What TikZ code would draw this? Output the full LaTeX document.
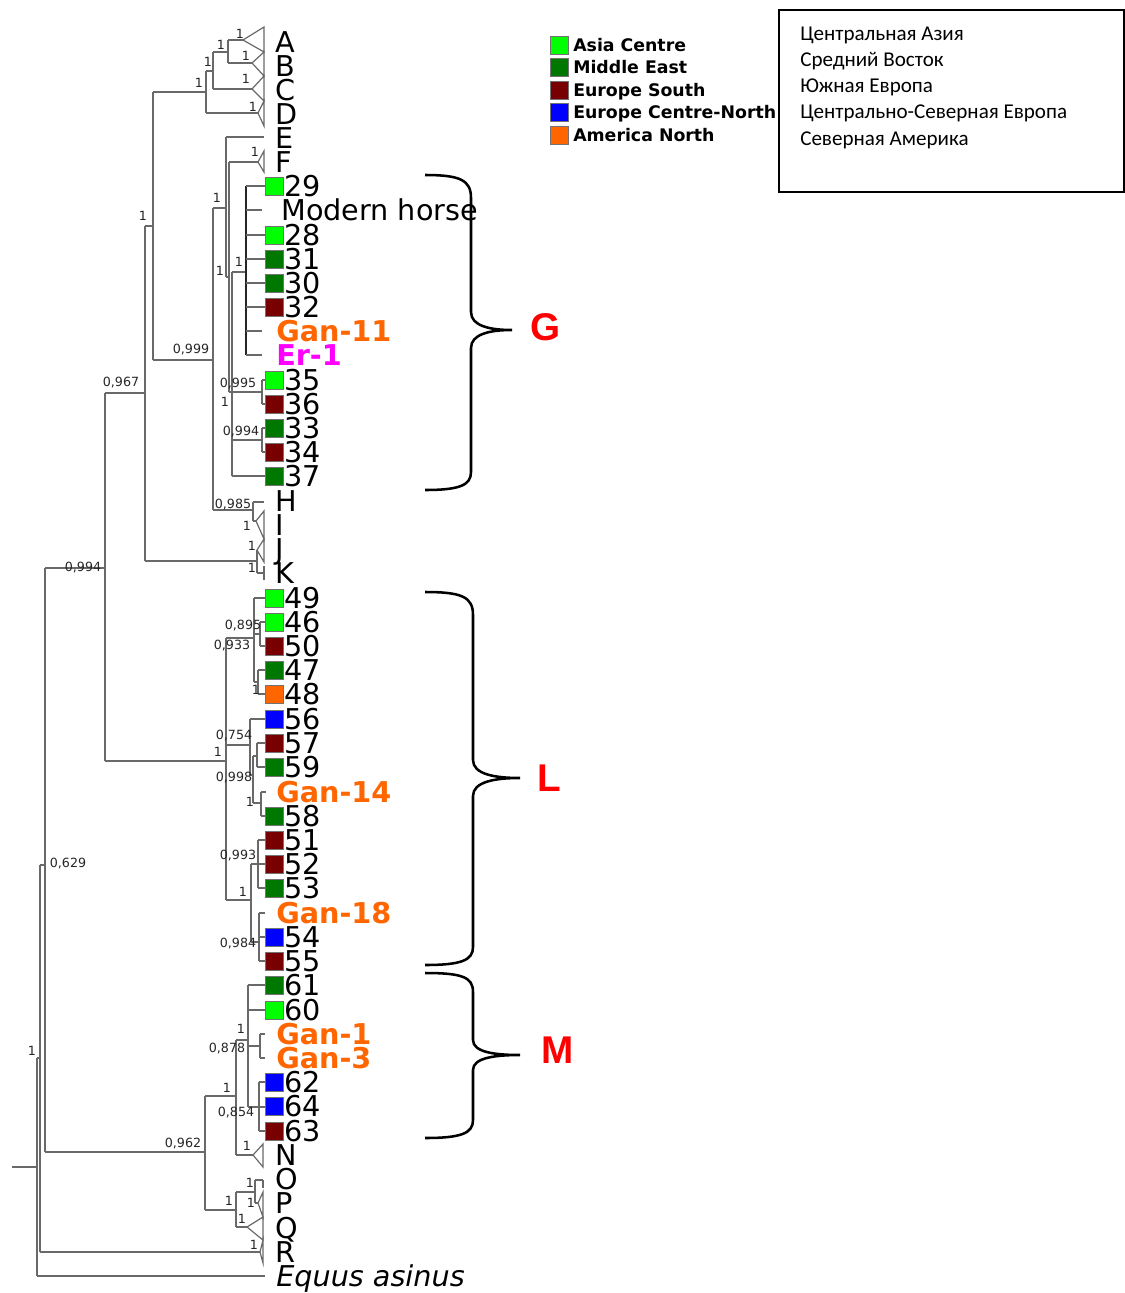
\documentclass[tikz,border=0pt]{standalone}
\usepackage{fontspec}
\setmainfont{DejaVu Sans}
\newfontfamily\rus{Carlito}
\newfontfamily\lsb{Liberation Sans}
\definecolor{ac}{RGB}{0,255,0}
\definecolor{me}{RGB}{0,120,0}
\definecolor{es}{RGB}{120,0,0}
\definecolor{ecn}{RGB}{0,0,255}
\definecolor{an}{RGB}{255,102,0}
\definecolor{tg}{RGB}{105,105,105}
\definecolor{mag}{RGB}{255,0,255}
\newcommand\sqleaf[4]{%
  \filldraw[fill=#3, draw=black!55, line width=0.4pt] (265,#2-9) rectangle (283,#2+9);
  \node[lf] (#1) at (284,#2+10.2) {#4};}
\newcommand\ltr[3]{\node[lf] (#1) at (275,#2+10.2) {#3};}
\newcommand\nlab[3]{\node[nl] at (#1,#2) {#3};}
\newcommand\legitem[3]{%
  \filldraw[fill=#2, draw=black!55, line width=0.4pt] (550,#1-9) rectangle (568,#1+9);
  \node[anchor=base west, inner sep=0pt, font=\bfseries\fontsize{13}{13}\selectfont] at (573,#1+6.3) {#3};}
\begin{document}
\begin{tikzpicture}[x=0.75pt,y=-0.75pt,
  tl/.style={draw=tg, line width=0.9pt},
  lf/.style={anchor=base west, inner sep=0pt, font=\fontsize{21.5}{21.5}\selectfont},
  gl/.style={anchor=base west, inner sep=0pt, font=\bfseries\fontsize{21.5}{21.5}\selectfont, text=an},
  nl/.style={inner sep=0pt, font=\fontsize{9.5}{10}\selectfont, text=black!85},
  bracestyle/.style={draw=black, line width=1.9pt},
  grp/.style={font=\lsb\bfseries\fontsize{29}{29}\selectfont, text=red, inner sep=0pt},
  rusl/.style={anchor=base west, inner sep=0pt, font=\rus\fontsize{15.8}{15.8}\selectfont}]
\useasboundingbox (0,0) rectangle (1125,1293);

% ---------------- tree: top clade ----------------
\draw[tl] (145,226)--(153,226);
\draw[tl] (153,92)--(153,360);
\draw[tl] (153,92)--(206,92);
\draw[tl] (206,71)--(206,113);
\draw[tl] (206,113)--(258,113);
\draw[tl] (206,71)--(213,71);
\draw[tl] (213,52)--(213,89);
\draw[tl] (213,89)--(252,89);
\draw[tl] (213,52)--(228,52);
\draw[tl] (228,40)--(228,63);
\draw[tl] (228,40)--(243,40);
\draw[tl] (228,63)--(252,63);
\draw[tl] (243,40)--(264,27)--(264,52)--cycle;
\draw[tl] (252,63)--(264,52)--(264,76)--cycle;
\draw[tl] (252,89)--(264,76)--(264,101)--cycle;
\draw[tl] (258,113)--(264,101)--(264,126)--cycle;
% G region
\draw[tl] (153,360)--(213,360);
\draw[tl] (213,208)--(213,510);
\draw[tl] (213,208)--(226,208);
\draw[tl] (226,137)--(226,277);
\draw[tl] (226,137)--(264,137);
\draw[tl] (226,277)--(229,277);
\draw[tl] (229,162)--(229,392);
\draw[tl] (229,162)--(258,162);
\draw[tl] (258,162)--(264,151)--(264,172)--cycle;
\draw[tl] (229,392)--(232,392);
\draw[tl] (232,272)--(232,476);
\draw[tl] (232,272)--(246,272);
\draw[tl, draw=black!85] (246,186)--(246,355);
\foreach \yy in {186,235,259,283,307} {\draw[tl] (246,\yy)--(265,\yy);}
\foreach \yy in {210,331,355} {\draw[tl] (246,\yy)--(262,\yy);}
\draw[tl] (232,392)--(262,392);
\draw[tl] (262,380)--(262,404);
\draw[tl] (262,380)--(265,380);
\draw[tl] (262,404)--(265,404);
\draw[tl] (232,440)--(262,440);
\draw[tl] (262,428)--(262,452);
\draw[tl] (262,428)--(265,428);
\draw[tl] (262,452)--(265,452);
\draw[tl] (232,476)--(265,476);
% H, I, J, K
\draw[tl] (213,510)--(253,510);
\draw[tl] (253,502)--(253,521);
\draw[tl] (253,502)--(264,502);
\draw[tl] (253,521)--(256,521);
\draw[tl] (256,521)--(264,511)--(264,539)--cycle;
\draw[tl] (105,393)--(145,393);
\draw[tl] (145,226)--(145,561);
\draw[tl] (145,561)--(257,561);
\draw[tl] (257,550)--(257,573);
\draw[tl] (257,550)--(264,539)--(264,562)--cycle;
\draw[tl] (257,573)--(264,573);
\draw[tl] (264,566)--(264,580);
% ---------------- L clade ----------------
\draw[tl] (45,568)--(105,568);
\draw[tl] (105,393)--(105,761);
\draw[tl] (105,761)--(226,761);
\draw[tl] (226,638)--(226,900);
\draw[tl] (226,638)--(254,638);
\draw[tl] (254,598)--(254,682);
\draw[tl] (254,598)--(265,598);
\draw[tl] (254,634)--(260,634);
\draw[tl] (260,622)--(260,646);
\draw[tl] (260,622)--(265,622);
\draw[tl] (260,646)--(265,646);
\draw[tl] (254,682)--(258,682);
\draw[tl] (258,670)--(258,694);
\draw[tl] (258,670)--(265,670);
\draw[tl] (258,694)--(265,694);
\draw[tl] (226,745)--(250,745);
\draw[tl] (250,719)--(250,775);
\draw[tl] (250,719)--(265,719);
\draw[tl] (250,775)--(253,775);
\draw[tl] (253,756)--(253,803);
\draw[tl] (253,756)--(257,756);
\draw[tl] (257,743)--(257,767);
\draw[tl] (257,743)--(265,743);
\draw[tl] (257,767)--(265,767);
\draw[tl] (253,803)--(261,803);
\draw[tl] (261,792)--(261,816);
\draw[tl] (261,792)--(266,792);
\draw[tl] (261,816)--(265,816);
\draw[tl] (226,900)--(251,900);
\draw[tl] (251,864)--(251,942);
\draw[tl] (251,864)--(258,864);
\draw[tl] (258,840)--(258,888);
\foreach \yy in {840,864,888} {\draw[tl] (258,\yy)--(265,\yy);}
\draw[tl] (251,942)--(259,942);
\draw[tl] (259,913)--(259,961);
\foreach \yy in {913,937,961} {\draw[tl] (259,\yy)--(265,\yy);}
% ---------------- M clade and N-R ----------------
\draw[tl] (45,1152)--(205,1152);
\draw[tl] (205,1096)--(205,1210);
\draw[tl] (205,1096)--(236,1096);
\draw[tl] (236,1040)--(236,1155);
\draw[tl] (236,1040)--(248,1040);
\draw[tl] (248,985)--(248,1107);
\draw[tl] (248,985)--(265,985);
\draw[tl] (248,1010)--(265,1010);
\draw[tl] (248,1046)--(260,1046);
\draw[tl] (260,1034)--(260,1058);
\draw[tl] (260,1034)--(265,1034);
\draw[tl] (260,1058)--(265,1058);
\draw[tl] (248,1107)--(259,1107);
\draw[tl] (259,1082)--(259,1131);
\foreach \yy in {1082,1107,1131} {\draw[tl] (259,\yy)--(265,\yy);}
\draw[tl] (236,1155)--(253,1155);
\draw[tl] (253,1155)--(263,1144)--(263,1167)--cycle;
\draw[tl] (205,1210)--(236,1210);
\draw[tl] (236,1192)--(236,1227);
\draw[tl] (236,1192)--(255,1192);
\draw[tl] (255,1180)--(255,1203);
\draw[tl] (255,1180)--(263,1180);
\draw[tl] (263,1180)--(263,1188);
\draw[tl] (255,1203)--(258,1203);
\draw[tl] (258,1203)--(263,1192)--(263,1217)--cycle;
\draw[tl] (236,1227)--(247,1227);
\draw[tl] (247,1227)--(263,1217)--(263,1240)--cycle;
\draw[tl] (40,1252)--(260,1252);
\draw[tl] (260,1252)--(263,1240)--(263,1263)--cycle;
% root
\draw[tl] (12,1167)--(37,1167);
\draw[tl] (37,1058)--(37,1276);
\draw[tl] (37,1276)--(265,1276);
\draw[tl] (37,1058)--(40,1058);
\draw[tl] (40,865)--(40,1252);
\draw[tl] (40,865)--(45,865);
\draw[tl] (45,568)--(45,1152);

% ---------------- node labels ----------------
\nlab{240}{34}{1}
\nlab{221}{45}{1}
\nlab{246}{56}{1}
\nlab{208}{62}{1}
\nlab{246}{79}{1}
\nlab{199}{83}{1}
\nlab{253}{107}{1}
\nlab{255}{152}{1}
\nlab{217}{198}{1}
\nlab{143}{216}{1}
\nlab{239}{262}{1}
\nlab{220}{271}{1}
\nlab{191}{350}{0,999}
\nlab{121}{383}{0,967}
\nlab{238}{384}{0,995}
\nlab{225}{402}{1}
\nlab{241}{432}{0,994}
\nlab{233}{505}{0,985}
\nlab{247}{526}{1}
\nlab{252}{546}{1}
\nlab{252}{568}{1}
\nlab{83}{568}{0,994}
\nlab{243}{626}{0,895}
\nlab{232}{646}{0,933}
\nlab{256}{690}{1}
\nlab{234}{736}{0,754}
\nlab{218}{752}{1}
\nlab{234}{778}{0,998}
\nlab{250}{802}{1}
\nlab{238}{856}{0,993}
\nlab{68}{864}{0,629}
\nlab{243}{892}{1}
\nlab{238}{944}{0,984}
\nlab{241}{1029}{1}
\nlab{227}{1049}{0,878}
\nlab{32}{1051}{1}
\nlab{227}{1088}{1}
\nlab{236}{1113}{0,854}
\nlab{183}{1144}{0,962}
\nlab{247}{1146}{1}
\nlab{250}{1183}{1}
\nlab{229}{1201}{1}
\nlab{251}{1203}{1}
\nlab{242}{1219}{1}
\nlab{254}{1245}{1}

% ---------------- leaves ----------------
\ltr{A}{42}{A}
\ltr{B}{66}{B}
\ltr{C}{90}{C}
\ltr{D}{114}{D}
\ltr{E}{138}{E}
\ltr{F}{162}{F}
\sqleaf{l29}{186}{ac}{29}
\node[lf] (mh) at (281,220.2) {Modern horse};
\sqleaf{l28}{235}{ac}{28}
\sqleaf{l31}{259}{me}{31}
\sqleaf{l30}{283}{me}{30}
\sqleaf{l32}{307}{es}{32}
\node[gl] (gan11) at (276,341.2) {Gan-11};
\node[gl, text=mag] (er1) at (276,365.2) {Er-1};
\sqleaf{l35}{380}{ac}{35}
\sqleaf{l36}{404}{es}{36}
\sqleaf{l33}{428}{me}{33}
\sqleaf{l34}{452}{es}{34}
\sqleaf{l37}{476}{me}{37}
\ltr{H}{501}{H}
\ltr{I}{525}{I}
\ltr{J}{549}{J}
\ltr{K}{573}{K}
\sqleaf{l49}{598}{ac}{49}
\sqleaf{l46}{622}{ac}{46}
\sqleaf{l50}{646}{es}{50}
\sqleaf{l47}{670}{me}{47}
\sqleaf{l48}{694}{an}{48}
\sqleaf{l56}{719}{ecn}{56}
\sqleaf{l57}{743}{es}{57}
\sqleaf{l59}{767}{me}{59}
\node[gl] (gan14) at (276,802.2) {Gan-14};
\sqleaf{l58}{816}{me}{58}
\sqleaf{l51}{840}{es}{51}
\sqleaf{l52}{864}{es}{52}
\sqleaf{l53}{888}{me}{53}
\node[gl] (gan18) at (276,923.2) {Gan-18};
\sqleaf{l54}{937}{ecn}{54}
\sqleaf{l55}{961}{es}{55}
\sqleaf{l61}{985}{me}{61}
\sqleaf{l60}{1010}{ac}{60}
\node[gl] (gan1) at (276,1044.2) {Gan-1};
\node[gl] (gan3) at (276,1068.2) {Gan-3};
\sqleaf{l62}{1082}{ecn}{62}
\sqleaf{l64}{1106}{ecn}{64}
\sqleaf{l63}{1131}{es}{63}
\ltr{N}{1155}{N}
\ltr{O}{1179}{O}
\ltr{P}{1203}{P}
\ltr{Q}{1228}{Q}
\ltr{R}{1252}{R}
\node[lf, font=\itshape\fontsize{21.5}{21.5}\selectfont] (ea) at (276,1286.2) {Equus asinus};

% ---------------- braces ----------------
\draw[bracestyle] (425,175) .. controls (460,175) and (471,180) .. (471,198) -- (471,312)
  .. controls (471,326) and (490,330) .. (512,330)
  .. controls (490,330) and (471,334) .. (471,348) -- (471,472)
  .. controls (471,485) and (460,490) .. (425,490);
\draw[bracestyle] (425,592) .. controls (462,592) and (473,597) .. (473,615) -- (473,760)
  .. controls (473,774) and (494,778) .. (520,778)
  .. controls (494,778) and (473,782) .. (473,796) -- (473,947)
  .. controls (473,960) and (462,965) .. (425,965);
\draw[bracestyle] (425,973) .. controls (462,973) and (473,977) .. (473,992) -- (473,1040)
  .. controls (473,1052) and (494,1055) .. (520,1055)
  .. controls (494,1055) and (473,1058) .. (473,1070) -- (473,1120)
  .. controls (473,1133) and (462,1138) .. (425,1138);
\node[grp] (gG) at (546,327) {G};
\node[grp] (gL) at (549,778) {L};
\node[grp] (gM) at (558,1050) {M};

% ---------------- legend ----------------
\legitem{45}{ac}{Asia Centre}
\legitem{67.5}{me}{Middle East}
\legitem{90}{es}{Europe South}
\legitem{112.5}{ecn}{Europe Centre-North}
\legitem{135}{an}{America North}

\draw[black, line width=1.1pt] (779,10) rectangle (1124,192);
\node[rusl] (r1) at (800,40) {Центральная Азия};
\node[rusl] (r2) at (800,66) {Средний Восток};
\node[rusl] (r3) at (800,92) {Южная Европа};
\node[rusl] (r4) at (800,118) {Центрально-Северная Европа};
\node[rusl] (r5) at (800,145) {Северная Америка};
\end{tikzpicture}
\end{document}
